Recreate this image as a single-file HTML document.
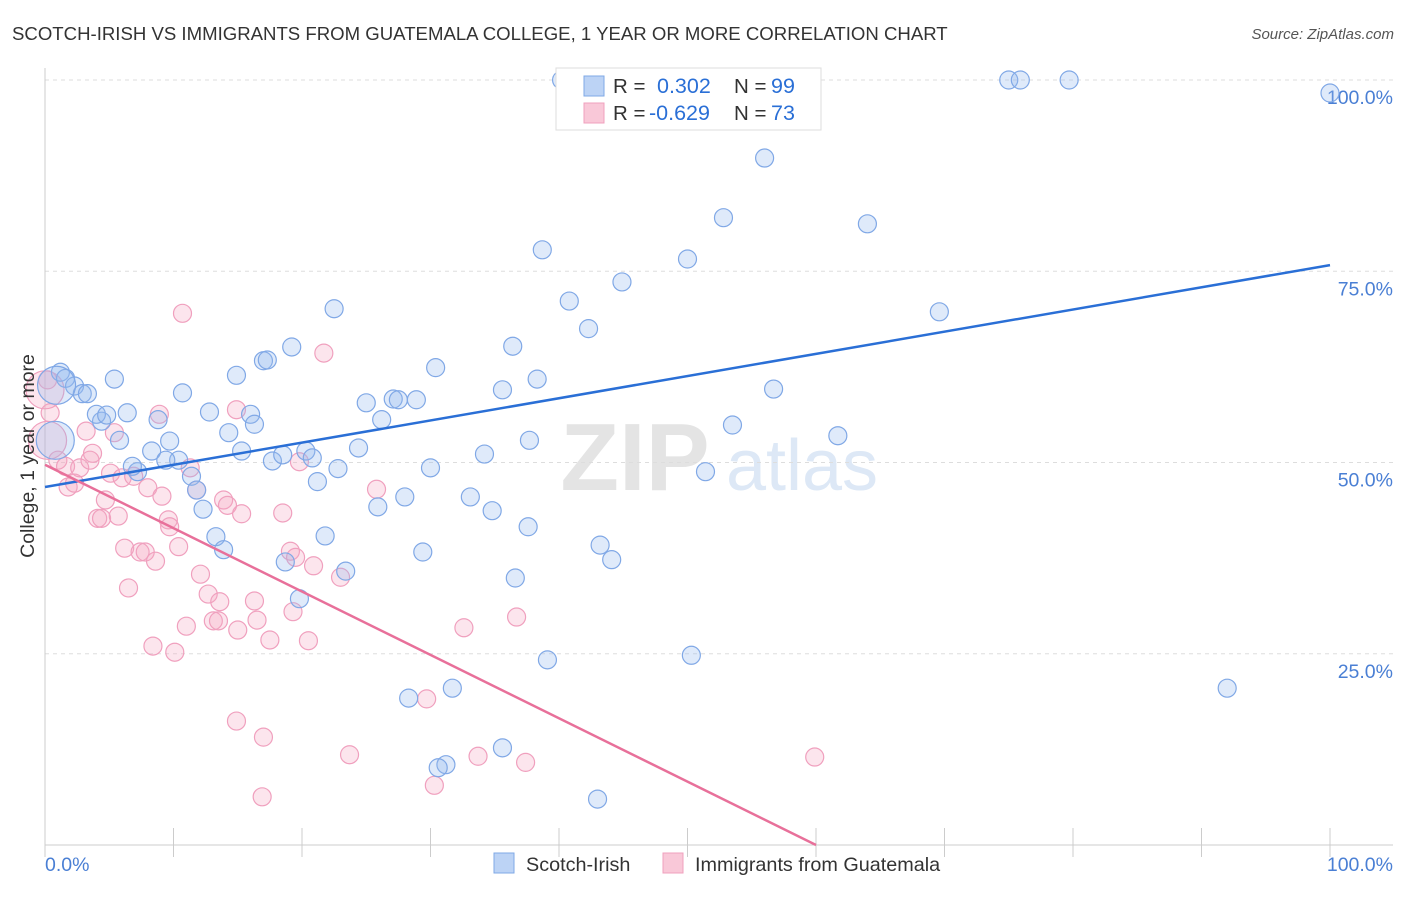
<!DOCTYPE html>
<html><head><meta charset="utf-8">
<style>
body{margin:0;background:#fff;font-family:"Liberation Sans",sans-serif;}
svg text{font-family:"Liberation Sans",sans-serif;}
</style></head>
<body>
<svg id="chart" width="1406" height="892" viewBox="0 0 1406 892" xmlns="http://www.w3.org/2000/svg">
<text x="12" y="40" font-size="18.6" fill="#333">SCOTCH-IRISH VS IMMIGRANTS FROM GUATEMALA COLLEGE, 1 YEAR OR MORE CORRELATION CHART</text>
<text x="1394" y="39" font-size="15" fill="#555" font-style="italic" text-anchor="end">Source: ZipAtlas.com</text>
<g>
<text x="635" y="490" font-size="96" fill="#e4e4e4" font-family="Liberation Serif" text-anchor="middle" font-weight="bold">ZIP</text>
<text x="802" y="490" font-size="72" fill="#dde8f6" text-anchor="middle">atlas</text>
</g>
<g id="grid"></g>
<g id="axes"></g>
<g id="pts"></g>
<g id="lines"></g>
<text x="34" y="456" font-size="19.5" fill="#333" text-anchor="middle" transform="rotate(-90 34 456)">College, 1 year or more</text>
<g>
<rect x="556" y="68" width="265" height="62" fill="#fff" stroke="#ddd"/>
<rect x="584" y="76" width="20" height="20" fill="#bcd3f5" stroke="#7fa8e6"/>
<text x="613" y="93" font-size="20.5" fill="#333">R =</text><text x="657" y="93" font-size="21.5" fill="#2a6fd6">0.302</text>
<text x="734" y="93" font-size="20.5" fill="#333">N =</text><text x="771" y="93" font-size="21.5" fill="#2a6fd6">99</text>
<rect x="584" y="103" width="20" height="20" fill="#f9c8d8" stroke="#f0a0be"/>
<text x="613" y="120" font-size="20.5" fill="#333">R =</text><text x="649" y="120" font-size="21.5" fill="#2a6fd6">-0.629</text>
<text x="734" y="120" font-size="20.5" fill="#333">N =</text><text x="771" y="120" font-size="21.5" fill="#2a6fd6">73</text>
</g>
<g>
<rect x="494" y="853" width="20" height="20" fill="#bcd3f5" stroke="#7fa8e6"/>
<text x="526" y="871" font-size="19.8" fill="#333">Scotch-Irish</text>
<rect x="663" y="853" width="20" height="20" fill="#f9c8d8" stroke="#f0a0be"/>
<text x="695" y="871" font-size="19.8" fill="#333">Immigrants from Guatemala</text>
</g>
</svg>
<script>
const yTicks=[100,75,50,25];
const yTickLabels=["100.0%","75.0%","50.0%","25.0%"];
const xTicks=[0,10,20,30,40,50,60,70,80,90,100];
const blueX=[40.2,48.5,46.1,75.0,75.9,79.7,100,56.0,52.8,64.0,38.7,50.0,44.9,40.8,42.3,22.5,69.6,19.2,36.4,30.4,17.0,17.3,14.9,10.7,5.4,1.2,1.6,2.3,2.9,3.3,4.4,4.0,4.8,6.4,5.8,8.8,8.3,9.7,10.4,12.8,14.3,15.3,16.0,16.3,17.7,18.5,20.3,20.8,21.2,22.8,24.4,25.0,26.2,27.1,27.5,28.9,30.0,35.6,38.3,37.7,34.2,33.1,34.8,28.0,25.9,21.8,23.4,29.4,36.6,37.6,43.2,44.1,39.1,50.3,51.4,53.5,56.7,61.7,92.0,28.3,31.7,35.6,31.2,30.6,43.0,19.8,18.7,13.3,13.9,12.3,11.4,11.8,7.2,6.8,9.4,0.8,0.9];
const blueY=[100,100,100,100,100,100,98.3,89.8,82.0,81.2,77.8,76.6,73.6,71.1,67.5,70.1,69.7,65.1,65.2,62.4,63.3,63.4,61.4,59.1,60.9,61.8,61.0,60.0,59.0,59.0,55.4,56.3,56.2,56.5,52.9,55.6,51.5,52.8,50.3,56.6,53.9,51.5,56.3,55.0,50.2,51.0,51.5,50.6,47.5,49.2,51.9,57.8,55.6,58.3,58.2,58.2,49.3,59.5,60.9,52.9,51.1,45.5,43.7,45.5,44.2,40.4,35.8,38.3,34.9,41.6,39.2,37.3,24.2,24.8,48.8,54.9,59.6,53.5,20.5,19.2,20.5,12.7,10.5,10.1,6.0,32.2,37.0,40.3,38.6,43.9,48.2,46.4,48.8,49.5,50.3,52.9,60.1];
const pinkX=[0.2,0.4,1.0,1.6,1.8,2.3,2.7,3.2,3.5,3.7,4.1,4.4,4.7,5.1,5.4,5.7,6.0,6.2,6.5,6.9,7.4,7.8,8.0,8.4,8.6,8.9,9.1,9.6,9.7,10.1,10.4,10.7,11.0,11.3,11.8,12.1,12.7,13.1,13.5,13.6,13.9,14.2,14.9,15.0,15.3,14.9,16.3,16.5,17.0,16.9,17.5,18.5,19.1,19.3,19.5,19.8,20.5,20.9,21.7,23.0,23.7,25.8,29.7,30.3,32.6,33.7,36.7,37.4,59.9,0,0.2];
const pinkY=[60.8,56.5,50.3,49.5,46.8,47.3,49.3,54.1,50.3,51.2,42.7,42.7,45.1,48.6,53.9,43.0,48.0,38.8,33.6,48.2,38.3,38.3,46.7,26.0,37.1,56.3,45.6,42.5,41.6,25.2,39.0,69.5,28.6,49.3,46.4,35.4,32.8,29.3,29.3,31.8,45.1,44.4,16.2,28.1,43.3,56.9,31.9,29.4,14.1,6.3,26.8,43.4,38.4,30.5,37.6,50.1,26.7,36.5,64.3,35.0,11.8,46.5,19.1,7.8,28.4,11.6,29.8,10.8,11.5,59.5,52.9];
const blueTrend=[46.8,75.8];
const pinkTrend=[49.7];
const pinkEnd=[60,0];
const NS="http://www.w3.org/2000/svg";
const sx=v=>45+v*12.85, sy=v=>845-v*7.65;
function mk(t,a,p){const e=document.createElementNS(NS,t);for(const k in a)e.setAttribute(k,a[k]);p.appendChild(e);return e;}
const grid=document.getElementById('grid'),axes=document.getElementById('axes'),pts=document.getElementById('pts'),lines=document.getElementById('lines');
yTicks.forEach((v,i)=>{
 const l=mk('line',{x1:45,x2:1393,y1:sy(v),y2:sy(v),stroke:'#ddd','stroke-dasharray':'4 4'},grid);
 
 
 const t=mk('text',{x:1393,y:sy(v)+24,'font-size':19.5,fill:'#4a7fd4','text-anchor':'end'},axes);t.textContent=yTickLabels[i];
 
 
});
mk('line',{x1:45,x2:45,y1:68,y2:845,stroke:'#ccc'},axes);
mk('line',{x1:45,x2:1393,y1:845,y2:845,stroke:'#ccc'},axes);
xTicks.forEach(v=>{const l=mk('line',{x1:sx(v),x2:sx(v),y1:828,y2:857,stroke:'#ccc'},axes);
 
 });
let t=mk('text',{x:45,y:871,'font-size':19.5,fill:'#4a7fd4'},axes);t.textContent='0.0%';


t=mk('text',{x:1393,y:871,'font-size':19.5,fill:'#4a7fd4','text-anchor':'end'},axes);t.textContent='100.0%';


function dots(X,Y,fill,stroke,name){X.forEach((x,i)=>{const big=i>=X.length-2;
 const c=mk('circle',{cx:sx(x),cy:sy(Y[i]),r:big?19:9,fill:fill,stroke:stroke,'stroke-width':1.2},pts);
 
 });}
dots(pinkX,pinkY,'rgba(246,168,196,0.3)','#f0a0be','pink');
dots(blueX,blueY,'rgba(150,185,240,0.3)','#80a8e6','blue');
let bl=mk('line',{x1:sx(0),y1:sy(blueTrend[0]),x2:sx(100),y2:sy(blueTrend[1]),stroke:'#2a6fd6','stroke-width':2.5},lines);


let pl=mk('line',{x1:sx(0),y1:sy(pinkTrend[0]),x2:sx(pinkEnd[0]),y2:sy(pinkEnd[1]),stroke:'#e8709a','stroke-width':2.5},lines);


</script>
</body></html>
